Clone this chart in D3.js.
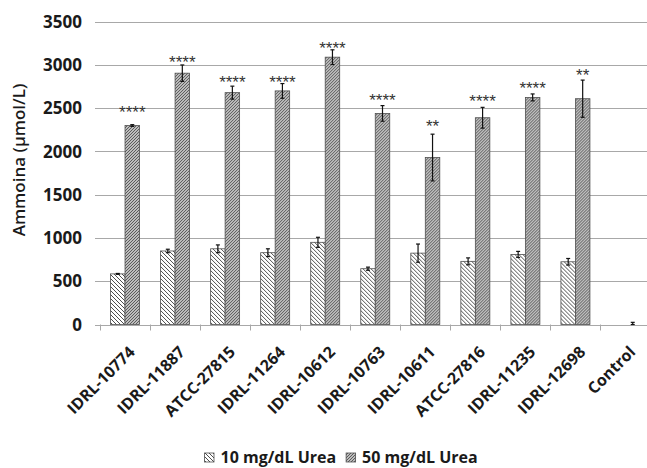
<!DOCTYPE html>
<html><head><meta charset="utf-8">
<script src="https://cdn.jsdelivr.net/npm/d3@7"></script>
<style>
html,body{margin:0;padding:0;background:#fff;}
svg{display:block;}
</style></head>
<body>
<svg id="chart" width="647" height="468"></svg>
<script>
const categories = ["IDRL-10774","IDRL-11887","ATCC-27815","IDRL-11264","IDRL-10612","IDRL-10763","IDRL-10611","ATCC-27816","IDRL-11235","IDRL-12698","Control"];
const seriesNames = ["10 mg/dL Urea","50 mg/dL Urea"];
const urea10 = [585, 850, 875, 830, 950, 645, 825, 730, 810, 725, 0];
const urea10Err = [5, 20, 45, 45, 58, 18, 105, 40, 35, 38, 0];
const urea50 = [2300, 2905, 2680, 2700, 3090, 2440, 1930, 2390, 2625, 2610, 0];
const urea50Err = [10, 95, 75, 85, 85, 90, 270, 120, 40, 215, 25];
const sigLabels = ["****","****","****","****","****","****","**","****","****","**",""];
const sigLabelAt = [2508, 3087, 2855, 2855, 3245, 2647, 2346, 2640, 2786, 2933, 0];
const yTicks = [0, 500, 1000, 1500, 2000, 2500, 3000, 3500];
const yTitle = "Ammoina (µmol/L)";

const svg = d3.select("#chart");
const FONT = "'Open Sans', 'Liberation Sans', sans-serif";

// patterns
const defs = svg.append("defs");
const p10 = defs.append("pattern").attr("id","pat10").attr("patternUnits","userSpaceOnUse").attr("width",4).attr("height",4);
p10.append("rect").attr("width",4).attr("height",4).attr("fill","#fff");
p10.append("path").attr("d","M-1,-1 L5,5 M3,-1 L5,1 M-1,3 L1,5").attr("stroke","#3a3a3a").attr("stroke-width",0.9);
const p50 = defs.append("pattern").attr("id","pat50").attr("patternUnits","userSpaceOnUse").attr("width",3).attr("height",3);
p50.append("rect").attr("width",3).attr("height",3).attr("fill","#bdbdbd");
p50.append("path").attr("d","M-1,1 L1,-1 M0,3 L3,0 M2,4 L4,2").attr("stroke","#505050").attr("stroke-width",0.9);
const fills = ["url(#pat10)","url(#pat50)"];

const x = d3.scaleBand().domain(categories).range([100, 650.5]).paddingInner(0).paddingOuter(0);
const xs = d3.scaleBand().domain(seriesNames).range([0, x.bandwidth()]).paddingInner(0).paddingOuter(0.726);
const y = d3.scaleLinear().domain([0, 3500]).range([324.5, 21.7]);

// gridlines
svg.append("g").selectAll("line").data(yTicks).join("line")
  .attr("x1", 95).attr("x2", 650).attr("y1", d => Math.round(y(d)) + 0.5).attr("y2", d => Math.round(y(d)) + 0.5)
  .attr("stroke", "#a8a8a8").attr("stroke-width", 1);

// y tick labels
svg.append("g").selectAll("text").data(yTicks).join("text")
  .attr("x", 82).attr("y", d => y(d)).attr("dy", "0.36em")
  .attr("text-anchor", "end").attr("font-family", FONT).attr("font-weight", "bold").attr("font-size", 17)
  .attr("fill", "#1a1a1a").text(d => d);

// x axis tick marks
const bounds = categories.map(c => x(c)).concat([x.range()[1]]);
svg.append("g").selectAll("line").data(bounds).join("line")
  .attr("x1", d => Math.round(d) + 0.5).attr("x2", d => Math.round(d) + 0.5)
  .attr("y1", y(0)).attr("y2", y(0) + 6).attr("stroke", "#a8a8a8").attr("stroke-width", 1);

// bars
const rows = categories.map((c, i) => ({c, i, vals: [
  {s: seriesNames[0], v: urea10[i], e: urea10Err[i], k: 0},
  {s: seriesNames[1], v: urea50[i], e: urea50Err[i], k: 1}]}));
const g = svg.append("g").selectAll("g").data(rows).join("g").attr("transform", d => `translate(${x(d.c)},0)`);
g.selectAll("rect").data(d => d.vals.filter(v => v.v > 0)).join("rect")
  .attr("x", d => xs(d.s)).attr("width", xs.bandwidth())
  .attr("y", d => y(d.v)).attr("height", d => y(0) - y(d.v))
  .attr("fill", d => fills[d.k]).attr("stroke", "#505050").attr("stroke-width", 0.8);

// error bars
const eb = g.selectAll("g.eb").data(d => d.vals.filter(v => v.e > 0)).join("g").attr("class","eb");
eb.append("line").attr("x1", d => xs(d.s) + xs.bandwidth()/2).attr("x2", d => xs(d.s) + xs.bandwidth()/2)
  .attr("y1", d => y(d.v + d.e)).attr("y2", d => y(Math.max(0, d.v - d.e))).attr("stroke", "#111").attr("stroke-width", 1.2);
eb.append("line").attr("x1", d => xs(d.s) + xs.bandwidth()/2 - 2).attr("x2", d => xs(d.s) + xs.bandwidth()/2 + 2)
  .attr("y1", d => y(d.v + d.e)).attr("y2", d => y(d.v + d.e)).attr("stroke", "#111").attr("stroke-width", 1.2);
eb.append("line").attr("x1", d => xs(d.s) + xs.bandwidth()/2 - 2).attr("x2", d => xs(d.s) + xs.bandwidth()/2 + 2)
  .attr("y1", d => y(Math.max(0, d.v - d.e))).attr("y2", d => y(Math.max(0, d.v - d.e))).attr("stroke", "#111").attr("stroke-width", 1.2);

// significance labels
svg.append("g").selectAll("text").data(rows.filter(d => sigLabels[d.i])).join("text")
  .attr("x", d => x(d.c) + xs(seriesNames[1]) + xs.bandwidth()/2)
  .attr("y", d => y(sigLabelAt[d.i])).attr("dy", "0.62em")
  .attr("text-anchor", "middle").attr("font-family", "'Liberation Sans', Arial, sans-serif")
  .attr("font-size", 17).attr("fill", "#333").text(d => sigLabels[d.i]);

// x labels
svg.append("g").selectAll("text").data(categories).join("text")
  .attr("transform", c => `translate(${x(c) + x.bandwidth()/2 + 11},353) rotate(-45)`)
  .attr("text-anchor", "end").attr("font-family", FONT).attr("font-weight", "bold").attr("font-size", 16)
  .attr("fill", "#1a1a1a").text(c => c);

// y title
svg.append("text").attr("transform", `translate(25,${160}) rotate(-90)`)
  .attr("text-anchor", "middle").attr("font-family", FONT).attr("font-weight", 600).attr("font-size", 17)
  .attr("fill", "#1a1a1a").text(yTitle);

// legend
const lg = svg.append("g");
let lx = 204.5;
seriesNames.forEach((s, k) => {
  lg.append("rect").attr("x", lx).attr("y", 453).attr("width", 9.5).attr("height", 9)
    .attr("fill", fills[k]).attr("stroke", "#505050").attr("stroke-width", 0.8);
  const t = lg.append("text").attr("x", lx + 16).attr("y", 463).attr("font-family", FONT)
    .attr("font-weight", "bold").attr("font-size", 16).attr("fill", "#1a1a1a").text(s);
  lx += 16 + t.node().getComputedTextLength() + 10;
});
</script>
</body></html>
